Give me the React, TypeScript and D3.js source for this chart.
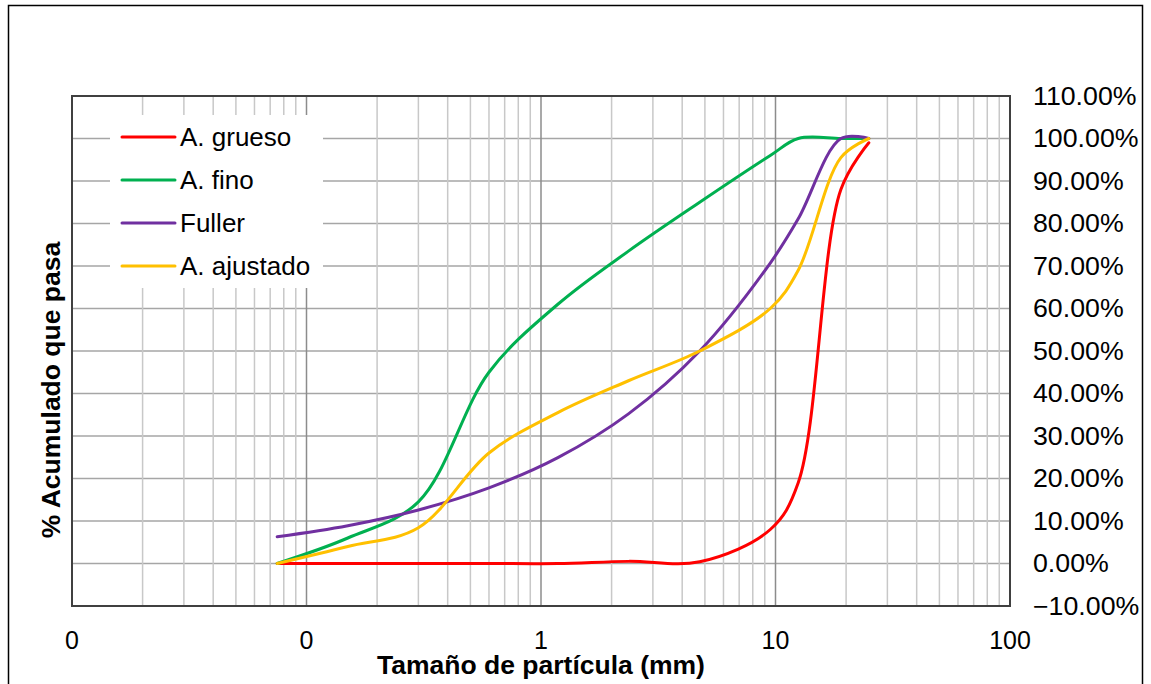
import React from "react";
import * as d3 from "d3";

const sizes = [0.075, 0.15, 0.3, 0.6, 1.18, 2.36, 4.75, 9.5, 12.5, 19, 25];
const grueso = [0, 0, 0, 0, 0, 0.5, 0.4, 8, 19, 88, 99];
const fino = [0, 6, 14.5, 45, 61, 73.5, 85, 96, 100, 100, 100];
const fuller = [6.3, 8.9, 12.6, 17.8, 24.9, 35.2, 50.0, 70.7, 81.1, 100, 100];
const ajustado = [0, 4, 8.4, 26, 35.5, 43, 50, 60, 69, 95.5, 100];

const seriesNames = ["A. grueso", "A. fino", "Fuller", "A. ajustado"];
const seriesColors = ["#FF0000", "#00B050", "#7030A0", "#FFC000"];
const seriesValues = [grueso, fino, fuller, ajustado];

const xTickValues = [0.01, 0.1, 1, 10, 100];
const xTickLabels = ["0", "0", "1", "10", "100"];
const yTickValues = [-10, 0, 10, 20, 30, 40, 50, 60, 70, 80, 90, 100, 110];

const W = 1151;
const H = 684;
const FONT = "'Liberation Sans', Arial, sans-serif";

export default function App() {
  const x = d3.scaleLog().domain([0.01, 100]).range([72, 1010]);
  const y = d3.scaleLinear().domain([-10, 110]).range([606, 96]);

  const minorX: number[] = [];
  for (let k = -2; k <= 1; k++) {
    for (let m = 2; m <= 9; m++) minorX.push(m * Math.pow(10, k));
  }

  const line = d3
    .line<[number, number]>()
    .x((d) => x(d[0]))
    .y((d) => y(d[1]))
    .curve(d3.curveCatmullRom.alpha(0.5));

  const fmt = (v: number) => d3.format(".2f")(v) + "%";

  const [x0, x1] = x.range();
  const [yb, yt] = y.range();

  return (
    <svg
      width={W}
      height={H}
      style={{ position: "absolute", left: 0, top: 0, background: "#fff" }}
      fontFamily={FONT}
    >
      <rect x={0} y={0} width={W} height={H} fill="#fff" />
      <rect x={8.5} y={5.5} width={1134} height={700} fill="none" stroke="#000" strokeWidth={1.5} />

      {/* horizontal grid */}
      {yTickValues.map((v) => (
        <line key={"h" + v} x1={x0} x2={x1} y1={y(v)} y2={y(v)} stroke="#a6a6a6" strokeWidth={1.5} />
      ))}
      {/* minor vertical grid */}
      {minorX.map((v) => (
        <line key={"m" + v} x1={x(v)} x2={x(v)} y1={yt} y2={yb} stroke="#c8c8c8" strokeWidth={1.5} />
      ))}
      {/* major vertical grid */}
      {xTickValues.map((v) => (
        <line key={"M" + v} x1={x(v)} x2={x(v)} y1={yt} y2={yb} stroke="#8c8c8c" strokeWidth={1.5} />
      ))}

      {/* plot border */}
      <rect x={x0} y={yt} width={x1 - x0} height={yb - yt} fill="none" stroke="#404040" strokeWidth={2} />

      {/* legend background */}
      <rect x={110} y={115} width={213} height={173} fill="#fff" />

      {/* series */}
      {seriesValues.map((vals, i) => (
        <path
          key={seriesNames[i]}
          d={line(sizes.map((s, j) => [s, vals[j]] as [number, number])) || ""}
          fill="none"
          stroke={seriesColors[i]}
          strokeWidth={3}
          strokeLinejoin="round"
          strokeLinecap="round"
        />
      ))}

      {/* legend */}
      {seriesNames.map((n, i) => {
        const ly = 137 + i * 43;
        return (
          <g key={"lg" + n}>
            <line x1={122} x2={175} y1={ly} y2={ly} stroke={seriesColors[i]} strokeWidth={3} strokeLinecap="round" />
            <text x={180} y={ly} dy="0.35em" fontSize={26} fill="#000">
              {n}
            </text>
          </g>
        );
      })}

      {/* y tick labels (right) */}
      {yTickValues.map((v) => (
        <text
          key={"yt" + v}
          transform={`translate(1033,${y(v)}) scale(1.07,1)`}
          dy="0.35em"
          fontSize={25}
          fill="#000"
        >
          {fmt(v)}
        </text>
      ))}

      {/* x tick labels */}
      {xTickValues.map((v, i) => (
        <text key={"xt" + v} x={x(v)} y={649} textAnchor="middle" fontSize={25} fill="#000">
          {xTickLabels[i]}
        </text>
      ))}

      {/* axis titles */}
      <text x={541} y={674} textAnchor="middle" fontSize={26.5} fontWeight="bold" fill="#000">
        Tamaño de partícula (mm)
      </text>
      <text
        transform="translate(60,390) rotate(-90)"
        textAnchor="middle"
        fontSize={26.5}
        fontWeight="bold"
        fill="#000"
      >
        % Acumulado que pasa
      </text>
    </svg>
  );
}
